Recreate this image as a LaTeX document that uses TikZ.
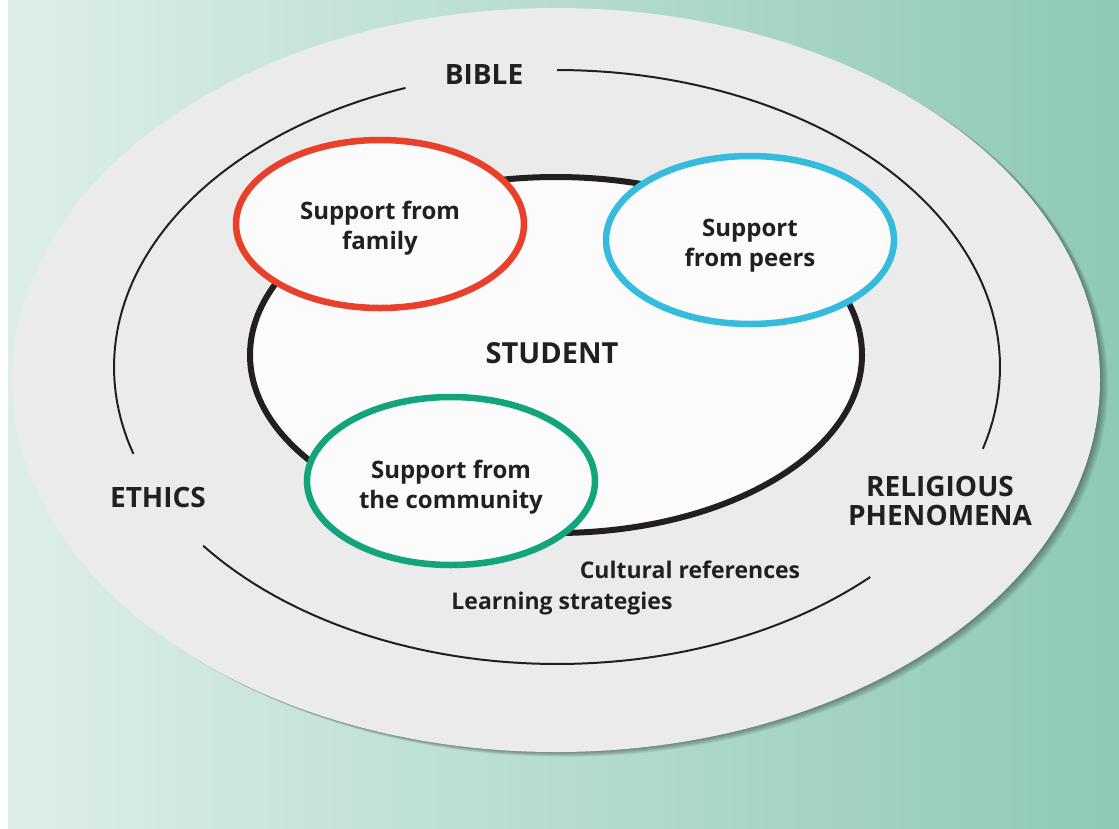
\documentclass[tikz,border=0pt]{standalone}
\usepackage{fontspec}
\setmainfont{Open Sans}
\usetikzlibrary{shapes.geometric}

\definecolor{bgleft}{HTML}{DDEEE8}
\definecolor{bgright}{HTML}{8ECAB3}
\definecolor{plategray}{HTML}{EBEBEB}
\definecolor{inkdark}{HTML}{231F20}
\definecolor{famred}{HTML}{E8402A}
\definecolor{peerblue}{HTML}{35BCDC}
\definecolor{commgreen}{HTML}{12A57C}

\tikzset{
  support/.style={ellipse,draw=#1,line width=6.5pt,fill=white!97!gray,
    minimum width=288pt,minimum height=168pt,inner sep=0pt},
  supporttext/.style={align=center,font=\bfseries\fontsize{24}{30}\selectfont,text=inkdark},
  ring/.style={line width=2pt,inkdark},
  area/.style={font=\bfseries\fontsize{28}{29}\selectfont,text=inkdark,align=center},
  strand/.style={font=\bfseries\fontsize{23}{26}\selectfont,text=inkdark}
}

\begin{document}
\begin{tikzpicture}[x=1pt,y=-1pt]
  \useasboundingbox (0,0) rectangle (1119,828);
  \fill[white] (0,0) rectangle (1119,828);
  % background
  \shade[left color=bgleft,right color=bgright] (8,0) rectangle (1119,828);
  % plate with soft shadow
  \foreach \k in {1,...,8}
    \fill[black,opacity=0.05] (556+1.0*\k,380+0.6*\k) ellipse [x radius=544,y radius=372];
  \fill[plategray] (556,380) ellipse [x radius=544,y radius=372];
  % ring of areas, broken at the labels
  \draw[ring] plot[domain=110:197,samples=60,variable=\a]
    ({557+443*cos(\a)},{367-297*sin(\a)});
  \draw[ring] plot[domain=217:315,samples=60,variable=\a]
    ({557+443*cos(\a)},{367-297*sin(\a)});
  \draw[ring] plot[domain=-16:90,samples=60,variable=\a]
    ({557+443*cos(\a)},{367-297*sin(\a)});
  \node[area] (bible) at (484,75) {BIBLE};
  \node[area] (ethics) at (158,497) {ETHICS};
  \node[area] (relig) at (940,501) {RELIGIOUS\\PHENOMENA};
  \node[strand] (cultural) at (690,570) {Cultural references};
  \node[strand] (learning) at (562,604) {Learning strategies};
  % student in the middle
  \node[ellipse,draw=inkdark,line width=6pt,fill=white!97!gray,
    minimum width=612pt,minimum height=356pt] (student) at (556,355) {};
  \node[font=\bfseries\fontsize{29}{30}\selectfont,text=inkdark] (studlabel) at (552,353) {STUDENT};
  % supports
  \node[support=famred] (family) at (380,224) {};
  \node[supporttext] (familytext) at ([yshift=-4pt]family.center) {Support from\\family};
  \node[support=peerblue] (peers) at (750,240) {};
  \node[supporttext] (peerstext) at ([yshift=-6pt]peers.center) {Support\\from peers};
  \node[support=commgreen] (community) at (451,481) {};
  \node[supporttext] (communitytext) at ([yshift=-6pt]community.center) {Support from\\the community};
\end{tikzpicture}
\end{document}
